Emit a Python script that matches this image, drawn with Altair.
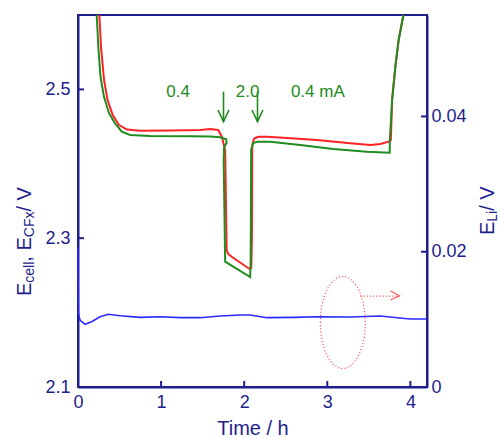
import altair as alt
import pandas as pd

# ---------------- data ----------------
t_red = [0.257, 0.277, 0.313, 0.355, 0.416, 0.494, 0.590, 0.747, 1.108, 1.470, 1.590, 1.687,
         1.731, 1.771, 1.789, 1.807, 1.855, 2.060, 2.085, 2.093, 2.097, 2.120, 2.169, 2.277,
         2.470, 2.876, 3.277, 3.518, 3.639, 3.739, 3.765, 3.780, 3.819, 3.859, 3.916]
e_red = [2.600, 2.557, 2.513, 2.486, 2.466, 2.452, 2.446, 2.4445, 2.4448, 2.4454, 2.4468, 2.4454,
         2.4364, 2.4185, 2.2841, 2.2788, 2.2747, 2.2590, 2.2600, 2.3000, 2.4253, 2.4340, 2.4364, 2.4364,
         2.4351, 2.4320, 2.4276, 2.4253, 2.4266, 2.4297, 2.4320, 2.4858, 2.5305, 2.5664, 2.600]

t_green = [0.225, 0.247, 0.271, 0.313, 0.373, 0.446, 0.527, 0.627, 0.867, 1.349, 1.590, 1.711,
           1.783, 1.789, 1.759, 1.753, 1.771, 2.072, 2.078, 2.084, 2.108, 2.157, 2.313, 2.675,
           3.072, 3.478, 3.751, 3.753, 3.780, 3.819, 3.859, 3.916]
e_green = [2.600, 2.553, 2.517, 2.490, 2.468, 2.4544, 2.4431, 2.4387, 2.4374, 2.4370, 2.4367, 2.4356,
           2.4329, 2.4280, 2.4226, 2.4051, 2.2684, 2.2478, 2.2707, 2.4185, 2.4280, 2.4297, 2.4297, 2.4253,
           2.4199, 2.4163, 2.4149, 2.4320, 2.4858, 2.5305, 2.5664, 2.600]

t_blue = [0.0, 0.004, 0.024, 0.084, 0.165, 0.265, 0.365, 0.506, 0.747, 0.988, 1.229, 1.470,
          1.711, 1.952, 2.072, 2.273, 2.594, 2.876, 3.277, 3.639, 3.840, 4.000, 4.200]
e_blue = [0.0207, 0.0109, 0.0099, 0.00927, 0.00965, 0.01039, 0.01075, 0.01054, 0.01030, 0.01039,
          0.01025, 0.01025, 0.01050, 0.01065, 0.01065, 0.01025, 0.01030, 0.01039, 0.01035, 0.01050,
          0.01025, 0.01005, 0.01005]

x_ticks = [0, 1, 2, 3, 4]
yl_ticks = [2.1, 2.3, 2.5]
yr_ticks = [0, 0.02, 0.04]

note_labels = ["0.4", "2.0", "0.4 mA"]
note_t = [1.205, 2.042, 2.886]
note_e = [2.4965, 2.4965, 2.4965]

arrow_t = [1.751, 2.160]
arrow_top = [2.4969, 2.4969]
arrow_tip = [2.4566, 2.4566]
arrow_head_e = [2.4723, 2.4723]
arrow_head_dt = 0.066

ellipse_t = [3.187]
ellipse_e = [0.00954]
pointer_shaft_t = [3.398, 3.867]
pointer_shaft_e = [0.01345, 0.01345]
pointer_head_t = [3.759, 3.871, 3.759]
pointer_head_e = [0.01424, 0.01345, 0.01286]

# ---------------- style ----------------
NAVY = "#1e1e8c"
RED = "#ff2222"
GREEN = "#1e8c1e"
BLUE = "#2a2aff"
PALE_RED = "#ff5a5a"
FONT = "Liberation Sans"
W, H = 349, 372

xs = alt.Scale(domain=[0, 4.2], nice=False, zero=False)
ysL = alt.Scale(domain=[2.1, 2.6], nice=False, zero=False)
ysR = alt.Scale(domain=[0, 0.055], nice=False, zero=False)

x_axis = alt.Axis(values=x_ticks, format="d", title="Time / h", ticks=False, tickSize=0,
                  labelPadding=6, titlePadding=7, grid=False, labelFlush=False,
                  titleFontWeight="normal", titleFontSize=20, titleColor=NAVY, titleFont=FONT)
yL_axis = alt.Axis(values=yl_ticks, format=".1f", title=None, orient="left", ticks=False,
                   tickSize=0, labelPadding=8, grid=False, labelFlush=False)
yR_axis = alt.Axis(values=yr_ticks, labelExpr="datum.value == 0 ? '0' : format(datum.value, '.2f')",
                   title=None, orient="right", ticks=False, tickSize=0, labelPadding=4,
                   grid=False, labelFlush=False)


def X(f):
    return alt.X(f, type="quantitative", scale=xs, axis=x_axis)


def YL(f):
    return alt.Y(f, type="quantitative", scale=ysL, axis=yL_axis)


def YR(f):
    return alt.Y(f, type="quantitative", scale=ysR, axis=yR_axis)


red_df = pd.DataFrame({"t": t_red, "e": e_red, "i": range(len(t_red))})
green_df = pd.DataFrame({"t": t_green, "e": e_green, "i": range(len(t_green))})
blue_df = pd.DataFrame({"t": t_blue, "e": e_blue, "i": range(len(t_blue))})

rows = []
for k, (t, top, tip, he) in enumerate(zip(arrow_t, arrow_top, arrow_tip, arrow_head_e)):
    rows += [{"g": f"s{k}", "t": t, "e": top, "i": 0}, {"g": f"s{k}", "t": t, "e": tip, "i": 1}]
    rows += [{"g": f"h{k}", "t": t - arrow_head_dt, "e": he, "i": 0},
             {"g": f"h{k}", "t": t, "e": tip, "i": 1},
             {"g": f"h{k}", "t": t + arrow_head_dt, "e": he, "i": 2}]
arrows_df = pd.DataFrame(rows)

notes_df = pd.DataFrame({"label": note_labels, "t": note_t, "e": note_e})

red_line = alt.Chart(red_df).mark_line(color=RED, strokeWidth=2).encode(
    x=X("t"), y=YL("e"), order="i:Q")
green_line = alt.Chart(green_df).mark_line(color=GREEN, strokeWidth=2).encode(
    x=X("t"), y=YL("e"), order="i:Q")
arrows = alt.Chart(arrows_df).mark_line(color=GREEN, strokeWidth=1.6).encode(
    x=X("t"), y=YL("e"), detail="g:N", order="i:Q")
notes = alt.Chart(notes_df).mark_text(color=GREEN, fontSize=17, font=FONT, baseline="middle",
                                      align="center").encode(x=X("t"), y=YL("e"), text="label:N")

x_tick_marks = alt.Chart(pd.DataFrame({"v": x_ticks[1:]})).mark_rule(color=NAVY, strokeWidth=2).encode(
    x=X("v"), y=alt.value(H), y2=alt.value(H - 6))
yl_tick_marks = alt.Chart(pd.DataFrame({"v": yl_ticks[1:]})).mark_rule(color=NAVY, strokeWidth=2).encode(
    y=YL("v"), x=alt.value(0), x2=alt.value(6))


def piece(text, size, px, py):
    return alt.Chart(alt.Data(values=[{}])).mark_text(
        text=text, angle=270, align="left", baseline="alphabetic", fontSize=size, font=FONT,
        color=NAVY).encode(x=alt.value(px), y=alt.value(py))


left_title = [
    piece("E", 20, -47, 281),
    piece("cell", 14, -44, 267.7),
    piece(",\u00a0E", 20, -47, 246.7),
    piece("CFx", 14, -44, 222.2),
    piece("\u00a0/\u00a0V", 20, -47, 196.5),
]
right_title = [
    piece("E", 20, 416, 220),
    piece("Li", 14, 419, 206.7),
    piece("\u00a0/\u00a0V", 20, 416, 195.8),
]

left_group = alt.layer(red_line, green_line, arrows, notes, x_tick_marks, yl_tick_marks,
                       *left_title, *right_title)

blue_line = alt.Chart(blue_df).mark_line(color=BLUE, strokeWidth=1.6).encode(
    x=X("t"), y=YR("e"), order="i:Q")
yr_tick_marks = alt.Chart(pd.DataFrame({"v": yr_ticks[1:]})).mark_rule(color=NAVY, strokeWidth=2).encode(
    y=YR("v"), x=alt.value(W), x2=alt.value(W - 6))
ellipse = alt.Chart(pd.DataFrame({"t": ellipse_t, "e": ellipse_e})).mark_point(
    shape="M -0.489 0 A 0.489 1 0 1 1 0.489 0 A 0.489 1 0 1 1 -0.489 0 Z",
    size=8464, filled=False, stroke=PALE_RED, strokeWidth=1.2, strokeDash=[1.2, 2], opacity=1
).encode(x=X("t"), y=YR("e"))
shaft = alt.Chart(pd.DataFrame({"t": pointer_shaft_t, "e": pointer_shaft_e})).mark_line(
    color=PALE_RED, strokeWidth=1.2, strokeDash=[1.2, 2]).encode(x=X("t"), y=YR("e"))
head = alt.Chart(pd.DataFrame({"t": pointer_head_t, "e": pointer_head_e,
                               "i": range(len(pointer_head_t))})).mark_line(
    color=PALE_RED, strokeWidth=1.2).encode(x=X("t"), y=YR("e"), order="i:Q")

right_group = alt.layer(blue_line, yr_tick_marks, ellipse, shaft, head)

chart = alt.layer(left_group, right_group).resolve_scale(y="independent").properties(
    width=W, height=H,
    padding={"left": 78, "top": 15, "right": 73, "bottom": 51},
    autosize=alt.AutoSizeParams(type="none"),
    background="white",
).configure_view(stroke=NAVY, strokeWidth=2).configure_axis(
    labelFont=FONT, labelFontSize=18, labelColor=NAVY, domainColor=NAVY, domainWidth=2,
    titleFont=FONT, titleColor=NAVY, titleFontSize=20, titleFontWeight="normal")

chart.save("out.html", embed_options={"renderer": "svg", "actions": False})
